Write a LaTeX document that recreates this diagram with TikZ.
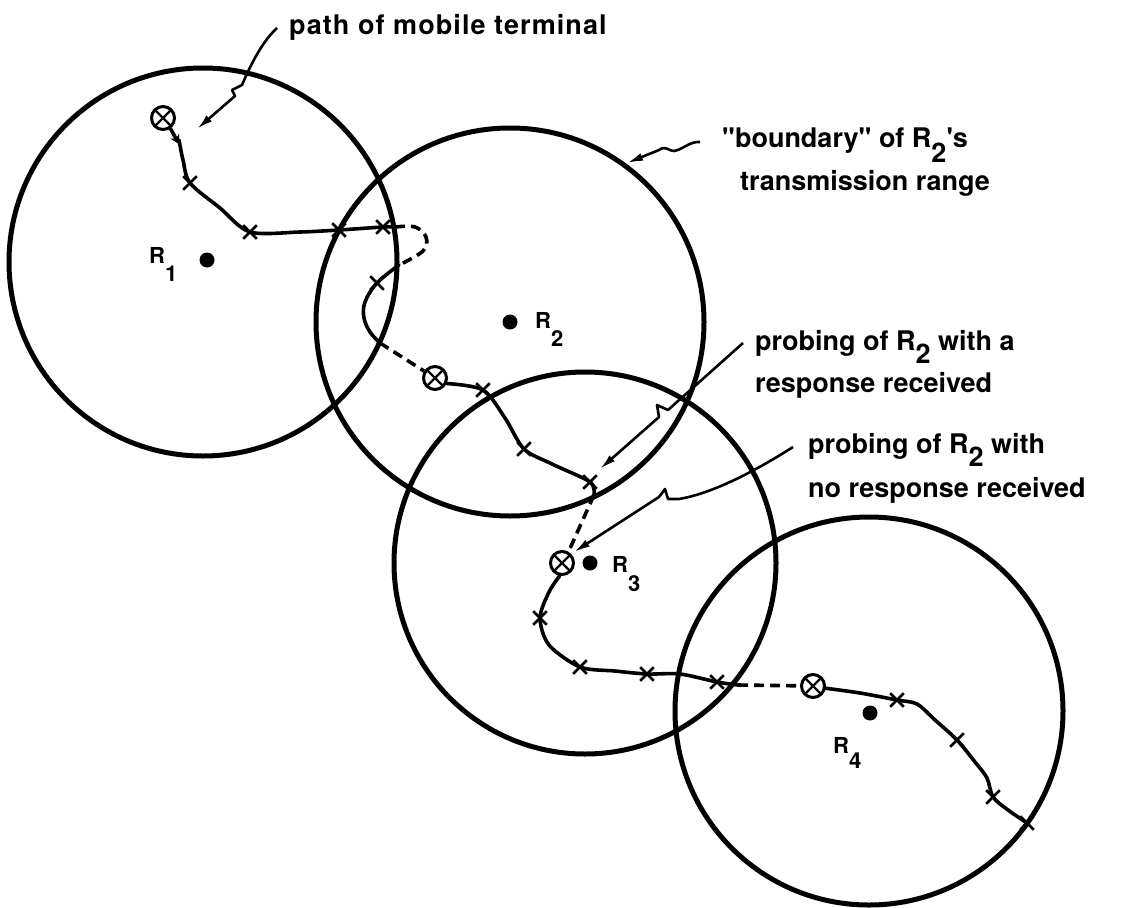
\documentclass[tikz,border=0pt]{standalone}
\usepackage{fontspec}
\setmainfont{TeX Gyre Heros}[Ligatures=TeXOff]
\usetikzlibrary{arrows.meta,shapes.misc}
\newcommand{\Rlow}[2]{R\raisebox{#1}{#2}}
\begin{document}
\begin{tikzpicture}[x=1pt,y=-1pt,
  cellrange/.style={line width=5pt},
  track/.style={line width=3.6pt,line cap=round,line join=round},
  lost/.style={line width=3.6pt,dash pattern=on 10pt off 6pt},
  leader/.style={line width=2.6pt,line join=round,-{Latex[length=16pt,width=8pt]}},
  xm/.style={draw,cross out,minimum size=11pt,inner sep=0pt,line width=2.6pt},
  term/.style={draw,circle,minimum size=23pt,inner sep=0pt,line width=3pt,fill=white,
     path picture={\draw[line width=2.2pt] (path picture bounding box.north west)--(path picture bounding box.south east) (path picture bounding box.north east)--(path picture bounding box.south west);}},
  station/.style={circle,fill,minimum size=15pt,inner sep=0pt},
  note/.style={anchor=base west,inner sep=0pt,font=\fontsize{27}{32}\selectfont\bfseries},
  stlabel/.style={anchor=base west,inner sep=0pt,font=\fontsize{22}{26}\selectfont\bfseries},
]
\fill[white] (0,0) rectangle (1123,907);
\useasboundingbox (0,0) rectangle (1123,907);

% transmission ranges
\coordinate (C1) at (203,262);
\coordinate (C2) at (510,322);
\coordinate (C3) at (585,563);
\coordinate (C4) at (869,711);
\draw[cellrange] (C1) circle[radius=194pt];
\draw[cellrange] (C2) circle[radius=194pt];
\draw[cellrange] (C3) circle[radius=191pt];
\draw[cellrange] (C4) circle[radius=194pt];

% stations
\node[station] (R1) at (207,260) {};
\node[station] (R2) at (510,322) {};
\node[station] (R3) at (590,563) {};
\node[station] (R4) at (870,713) {};
\node[stlabel] (R1l) at (149,263) {\Rlow{-0.85em}{1}};
\node[stlabel] (R2l) at (535,328) {\Rlow{-0.85em}{2}};
\node[stlabel] (R3l) at (612,572) {\Rlow{-0.9em}{3}};
\node[stlabel] (R4l) at (833,753) {\Rlow{-0.71em}{4}};

% path points
\coordinate (x1) at (190,183);
\coordinate (x2) at (250,232);
\coordinate (x3) at (339,230);
\coordinate (x4) at (383,227);
\coordinate (e1) at (395,227);
\coordinate (e2) at (399,265);
\coordinate (x5) at (377,283);
\coordinate (e3) at (380,343);
\coordinate (x6) at (483,390);
\coordinate (x7) at (524,449);
\coordinate (x8) at (590,482);
\coordinate (e4) at (594,495);
\coordinate (x9) at (540,618);
\coordinate (x10) at (580,667);
\coordinate (x11) at (647,674);
\coordinate (x12) at (717,682);
\coordinate (e5) at (738,685);
\coordinate (x13) at (897,700);
\coordinate (x14) at (957,740);
\coordinate (x15) at (993,797);
\coordinate (x16) at (1027,823);

% terminal probing positions
\node[term] (T1) at (163,118) {};
\node[term] (T2) at (435,378) {};
\node[term] (T3) at (562,563) {};
\node[term] (T4) at (813,686) {};

% mobile track
\draw[track,-{Stealth[length=9pt,width=10pt]}] (T1.-55) -- (179,144);
\draw[track] plot[smooth,tension=0.5] coordinates {(179,140) (183,160) (x1) (220,208) (x2) (300,232) (x3) (x4) (e1)};
\draw[lost] plot[smooth,tension=0.6] coordinates {(e1) (415,227) (426,237) (423,251) (e2)};
\draw[track] plot[smooth,tension=0.6] coordinates {(e2) (x5) (365,302) (364,318) (370,332) (e3)};
\draw[lost] (e3) -- (T2);
\draw[track] plot[smooth,tension=0.5] coordinates {(T2.-25) (x6) (505,418) (x7) (552,464) (x8) (e4)};
\draw[lost] (e4) -- (T3.60);
\draw[track] plot[smooth,tension=0.5] coordinates {(T3.-100) (549,592) (x9) (549,645) (x10) (615,671) (x11) (680,674) (x12) (e5)};
\draw[lost] (e5) -- (T4);
\draw[track] plot[smooth,tension=0.5] coordinates {(T4.-10) (860,693) (x13) (917,704) (935,720) (x14) (975,762) (987,778) (x15) (1008,810) (x16)};

\foreach \p in {x1,x2,x3,x4,x5,x6,x7,x8,x9,x10,x11,x12,x13,x14,x15,x16}
  \node[xm] (m\p) at (\p) {};

% annotations
\node[note] (Lpath) at (289,35) {\addfontfeature{LetterSpace=4}path of mobile terminal};
\node[note] (Lb1) at (722,147) {"boundary" of \Rlow{-0.58em}{2}'s};
\node[note] (Lb2) at (740,190) {transmission range};
\node[note] (Lr1) at (755,350) {probing of \Rlow{-0.5em}{2} with a};
\node[note] (Lr2) at (755,392) {response received};
\node[note] (Ln1) at (808,453) {probing of \Rlow{-0.5em}{2} with};
\node[note] (Ln2) at (808,497) {no response received};

\coordinate (a1) at (197,129);
\coordinate (a2) at (627,163);
\coordinate (a3) at (600,469);
\coordinate (a4) at (574,552);

\draw[leader] ([shift={(-12pt,7pt)}]Lpath.base west) .. controls (262,42) and (251,64) .. (242,85) -- (232,90) -- (235,96) -- (a1);
\draw[leader] ([shift={(-22pt,5pt)}]Lb1.base west) .. controls (690,141) and (682,150) .. (674,151) .. controls (668,151) and (666,145) .. (659,150) -- (a2);
\draw[leader] ([shift={(-12pt,7pt)}]Lr1.base west) -- (668,410) -- (657,405) -- (659,417) -- (a3);
\draw[leader] ([shift={(-15pt,6pt)}]Ln1.base west) .. controls (760,468) and (715,493) .. (679,499) -- (668,499) -- (665,489) -- (659,497) -- (a4);
\end{tikzpicture}
\end{document}
